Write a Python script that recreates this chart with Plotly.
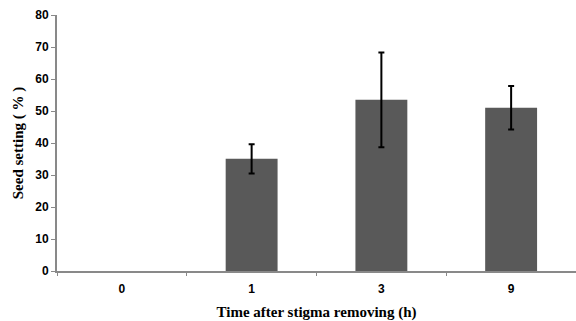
import plotly.graph_objects as go

categories = ["0", "1", "3", "9"]
seed_setting = [0, 35.1, 53.5, 51.0]
error_plus = [0, 4.5, 14.8, 6.8]
error_minus = [0, 4.6, 14.8, 6.8]
y_ticks = [0, 10, 20, 30, 40, 50, 60, 70, 80]

axis_color = "#898989"
bar_color = "#595959"

# zero-height bars draw nothing (and carry no error bar) in the reference
y_plot = [v if v > 0 else None for v in seed_setting]

fig = go.Figure()
fig.add_trace(go.Bar(
    x=categories,
    y=y_plot,
    width=0.4,
    marker=dict(color=bar_color, line=dict(width=0)),
    error_y=dict(
        type="data",
        symmetric=False,
        array=error_plus,
        arrayminus=error_minus,
        color="black",
        thickness=2,
        width=3,
        visible=True,
    ),
    showlegend=False,
))

fig.update_layout(
    width=576,
    height=321,
    margin=dict(l=57, r=0, t=15, b=50),
    paper_bgcolor="white",
    plot_bgcolor="white",
    xaxis=dict(
        type="category",
        automargin=False,
        showline=True,
        linecolor=axis_color,
        linewidth=2,
        ticks="outside",
        tickson="boundaries",
        ticklen=3,
        tickcolor=axis_color,
        tickwidth=1,
        ticklabelstandoff=6,
        showgrid=False,
        tickfont=dict(family="Liberation Sans", size=12, color="black", weight="bold"),
        title=dict(
            text="Time after stigma removing (h)",
            font=dict(family="Liberation Serif", size=15, color="black", weight="bold"),
            standoff=11,
        ),
        range=[-0.5, 3.5],
    ),
    yaxis=dict(
        range=[0, 80],
        automargin=False,
        tickvals=y_ticks,
        showline=True,
        linecolor=axis_color,
        linewidth=2,
        ticks="outside",
        ticklen=4,
        tickcolor=axis_color,
        tickwidth=1,
        showgrid=False,
        zeroline=False,
        tickfont=dict(family="Liberation Sans", size=12, color="black", weight="bold"),
        title=dict(
            text="Seed setting ( % )",
            font=dict(family="Liberation Serif", size=15, color="black", weight="bold"),
            standoff=8,
        ),
    ),
)

fig.write_html(
    "out.html",
    config={"displayModeBar": False},
    post_script="document.body.style.margin='0';document.body.style.padding='0';",
)
